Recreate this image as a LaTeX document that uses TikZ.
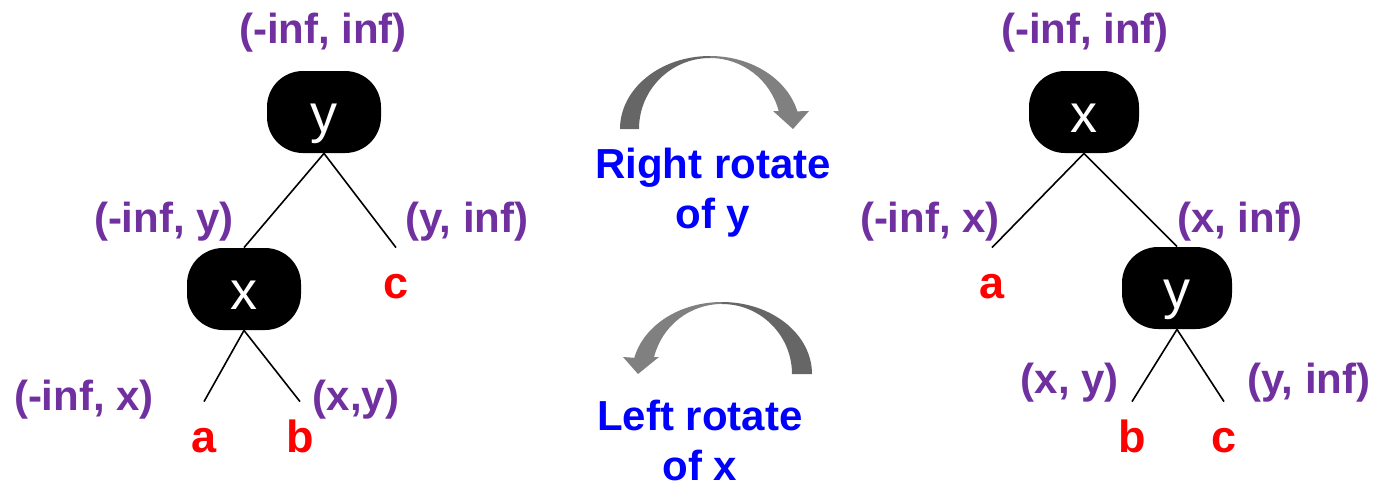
\documentclass[tikz,border=0pt]{standalone}
\usepackage{fontspec}
\setmainfont{Liberation Sans}
\usetikzlibrary{positioning}

\definecolor{rangepurple}{RGB}{112,48,160}
\definecolor{arrowdark}{RGB}{102,102,102}
\definecolor{arrowlight}{RGB}{128,128,128}

\begin{document}
\begin{tikzpicture}[
  x=0.5pt, y=-0.5pt,
  rb/.style={fill=black, rounded corners=18pt, inner sep=0pt,
             minimum width=57pt, minimum height=41pt, text=white,
             font=\fontsize{27}{32}\selectfont, text height=20pt, text depth=0pt},
  rng/.style={text=rangepurple, inner sep=0pt,
              font=\bfseries\fontsize{21}{25}\selectfont},
  leaf/.style={text=red, anchor=base, inner sep=0pt, text height=25pt, text depth=0pt,
               font=\bfseries\fontsize{22.5}{27}\selectfont},
  rot/.style={text=blue, align=center, anchor=north, inner sep=0pt,
              font=\bfseries\fontsize{21}{25}\selectfont},
  edge/.style={line width=0.8pt},
]
\useasboundingbox (0,0) rectangle (1389,488);

% ---- left tree ----------------------------------------------------
\node[rb] (yl) at (324,112) {y};
\node[rb] (xl) at (244,289) {x};
\node[leaf] (al) at (204,452) {a};
\node[leaf] (bl) at (300,452) {b};
\node[leaf] (cl) at (396,298) {c};

\draw[edge] (yl.south) -- (xl.north);
\draw[edge] (yl.south) -- (cl.north);
\draw[edge] (xl.south) -- (al.north);
\draw[edge] (xl.south) -- (bl.north);

\node[rng] (r1) at (323,33)  {(-inf, inf)};
\node[rng] (r2) at (164,222) {(-inf, y)};
\node[rng] (r3) at (467,222) {(y, inf)};
\node[rng] (r4) at (84,400)  {(-inf, x)};
\node[rng] (r5) at (356,400) {(x,y)};

% ---- right tree ---------------------------------------------------
\node[rb, minimum width=55pt] (xr) at (1084,112) {x};
\node[rb, minimum width=55pt] (yr) at (1177,288) {y};
\node[leaf] (ar) at (992,298)  {a};
\node[leaf] (br) at (1132,452) {b};
\node[leaf] (cr) at (1224,452) {c};

\draw[edge] (xr.south) -- (ar.north);
\draw[edge] (xr.south) -- (yr.north);
\draw[edge] (yr.south) -- (br.north);
\draw[edge] (yr.south) -- (cr.north);

\node[rng] (s1) at (1085,33)  {(-inf, inf)};
\node[rng] (s2) at (930,222)  {(-inf, x)};
\node[rng] (s3) at (1240,222) {(x, inf)};
\node[rng] (s4) at (1070,383) {(x, y)};
\node[rng] (s5) at (1309,383) {(y, inf)};

% ---- rotation arrows ----------------------------------------------
\fill[arrowdark] (620,129) arc[start angle=180, end angle=270, x radius=90, y radius=73]
  -- (710,58) arc[start angle=270, end angle=180, radius=71] -- cycle;
\fill[arrowlight] (710,56) arc[start angle=270, end angle=346, x radius=90, y radius=73]
  -- (809,111) -- (793,129) -- (773,111) -- (778.7,111)
  arc[start angle=345.3, end angle=270, radius=71] -- cycle;

\fill[arrowdark] (812,374) arc[start angle=0, end angle=-90, x radius=90, y radius=72]
  -- (722,304) arc[start angle=-90, end angle=0, radius=70] -- cycle;
\fill[arrowlight] (722,302) arc[start angle=270, end angle=193, x radius=90, y radius=72]
  -- (623,357) -- (638,374) -- (659,357) -- (654.1,357)
  arc[start angle=194, end angle=270, radius=70] -- cycle;

\node[rot] (rr) at (713,148) {Right rotate\\of y};
\node[rot] (lr) at (700,400) {Left rotate\\of x};

\end{tikzpicture}
\end{document}
